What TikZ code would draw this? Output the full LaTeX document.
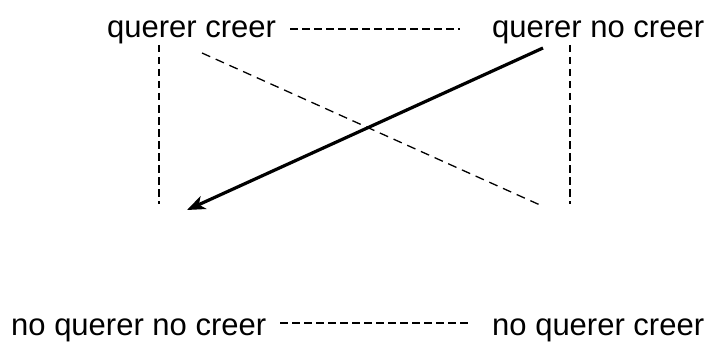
\documentclass[tikz,border=0pt]{standalone}
\usepackage{fontspec}
\setmainfont{Liberation Sans}
\usetikzlibrary{arrows.meta}
\begin{document}
\begin{tikzpicture}[x=1pt,y=-1pt,
  lbl/.style={anchor=base west,inner sep=0pt,font=\fontsize{31}{37}\selectfont},
  dline/.style={line width=1.3pt,dash pattern=on 7.5pt off 4.5pt},
  ddiag/.style={line width=1.3pt,dash pattern=on 9pt off 6pt},
  bigarrow/.style={line width=3.2pt,-{Stealth[length=18pt,width=14pt,inset=5pt]}}]
\useasboundingbox (0,0) rectangle (711,342);
\node[lbl] (qc) at (107,38) {querer creer};
\node[lbl] (qnc) at (492,38) {querer no creer};
\node[lbl] (nqnc) at (11,335) {no querer no creer};
\node[lbl] (nqc) at (492,335) {no querer creer};
\coordinate (t1) at (290,29);
\coordinate (t2) at (460,29);
\coordinate (b1) at (280,323);
\coordinate (b2) at (468,323);
\coordinate (l1) at (159,45);
\coordinate (l2) at (159,204);
\coordinate (r1) at (570,45);
\coordinate (r2) at (570,204);
\coordinate (d1) at (202,53);
\coordinate (d2) at (540,205);
\coordinate (a1) at (543,48);
\coordinate (a2) at (187,210);
\draw[dline] (t1) -- (t2);
\draw[dline] (b1) -- (b2);
\draw[dline] (l1) -- (l2);
\draw[dline] (r1) -- (r2);
\draw[ddiag] (d1) -- (d2);
\draw[bigarrow] (a1) -- (a2);
\end{tikzpicture}
\end{document}
